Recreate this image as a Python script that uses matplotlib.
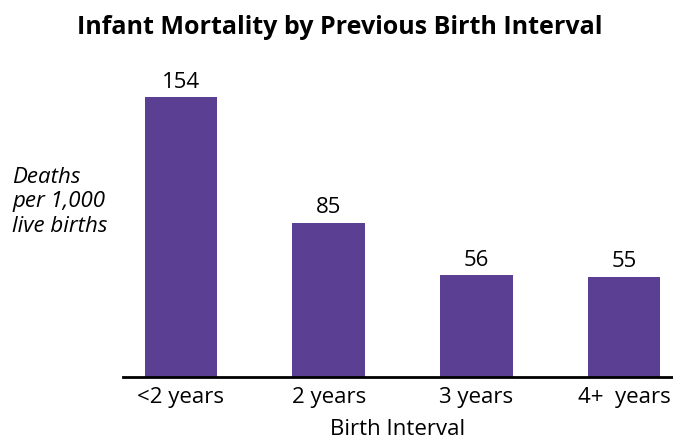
import matplotlib.pyplot as plt

# data
categories = ["<2 years", "2 years", "3 years", "4+  years"]
deaths = [154, 85, 56, 55]

bar_color = "#5b3f93"

plt.rcParams['font.family'] = ['Open Sans', 'DejaVu Sans']

fig = plt.figure(figsize=(6.73, 4.42), dpi=100)
ax = fig.add_axes([123 / 673, 65 / 442, 550 / 673, 309 / 442])

x = range(len(categories))
bars = ax.bar(x, deaths, width=0.49, color=bar_color)

# value labels above bars
for xi, v in zip(x, deaths):
    ax.text(xi, v + 2.5, str(v), ha='center', va='bottom', fontsize=16)

ax.set_xlim(-0.392, 3.33)
ax.set_ylim(0, 170)

ax.set_xticks(list(x))
ax.set_xticklabels(categories, fontsize=16)
ax.tick_params(axis='x', length=0, pad=7)
ax.set_yticks([])

for s in ['top', 'right', 'left']:
    ax.spines[s].set_visible(False)
ax.spines['bottom'].set_linewidth(2)

ax.set_xlabel("Birth Interval", fontsize=16, labelpad=8)

fig.text(12 / 673, 1 - 202 / 442, "Deaths\nper 1,000\nlive births", fontsize=16,
         style='italic', ha='left', va='center', linespacing=1.22)

fig.text(340 / 673, 1 - 28 / 442, "Infant Mortality by Previous Birth Interval",
         fontsize=18, fontweight='bold', ha='center', va='center')

fig.savefig("out.png", dpi=100)
